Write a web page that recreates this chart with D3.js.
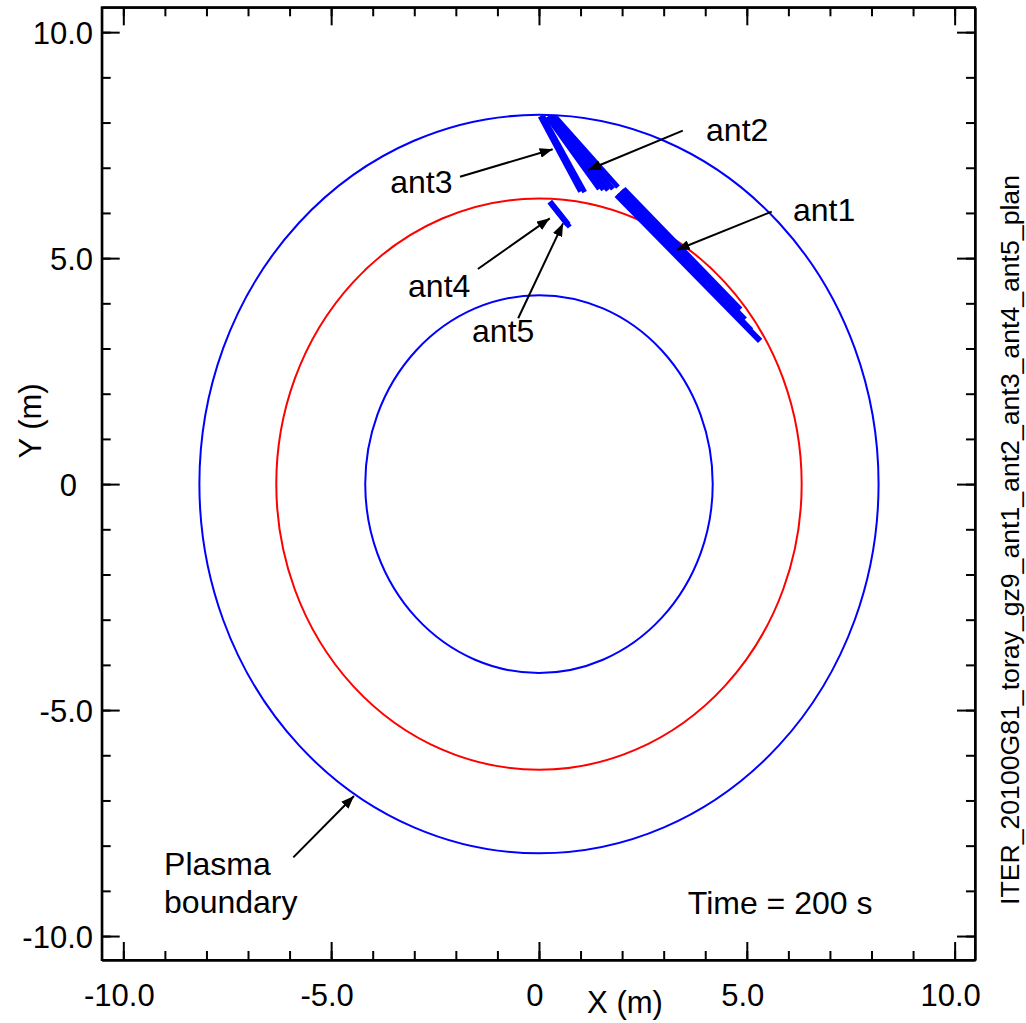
<!DOCTYPE html>
<html>
<head>
<meta charset="utf-8">
<script src="https://cdn.jsdelivr.net/npm/d3@7"></script>
<style>
  body { margin: 0; background: #fff; }
  text { font-family: "Liberation Sans", Arial, sans-serif; fill: #000; }
</style>
</head>
<body>
<div id="chart"></div>
<script>
// tick values and labels
const majorTicks = [-10, -5, 0, 5, 10];
const minorTicks = [-10, -9, -8, -7, -6, -5, -4, -3, -2, -1, 0, 1, 2, 3, 4, 5, 6, 7, 8, 9, 10];
const xTickLabels = ["-10.0", "-5.0", "0", "5.0", "10.0"];
const yTickLabels = ["-10.0", "-5.0", "0", "5.0", "10.0"];

// flux surfaces (radius in m): plasma boundary, resonance, inner surface
const surfaceRadii = [8.17, 6.32, 4.18];

// ray bundles, each ray as [x0, y0, x1, y1] in m
const ant1Rays = [[2.03, 6.53, 4.84, 3.86], [1.97, 6.48, 4.95, 3.64], [1.92, 6.43, 5.10, 3.40], [1.87, 6.40, 5.32, 3.17], [1.99, 6.50, 4.80, 3.70]];
const ant2Rays = [[0.20, 8.13, 1.45, 6.53], [0.25, 8.13, 1.55, 6.51], [0.30, 8.13, 1.66, 6.50], [0.35, 8.13, 1.78, 6.53], [0.40, 8.12, 1.90, 6.57]];
const ant3Rays = [[0.03, 8.14, 1.00, 6.47], [0.09, 8.14, 1.10, 6.46]];
const ant4Rays = [[0.26, 6.25, 0.70, 5.74]];
const ant5Rays = [[0.31, 6.19, 0.74, 5.69]];

const W = 1026, H = 1023;
const box = {left: 101.7, right: 975, top: 7.3, bottom: 960};

const svg = d3.select("#chart").append("svg")
    .attr("width", W)
    .attr("height", H);

svg.append("defs").append("marker")
    .attr("id", "head")
    .attr("viewBox", "0 0 13 10")
    .attr("refX", 13)
    .attr("refY", 5)
    .attr("markerWidth", 13)
    .attr("markerHeight", 10)
    .attr("markerUnits", "userSpaceOnUse")
    .attr("orient", "auto")
  .append("path")
    .attr("d", "M0,0L13,5L0,10Z")
    .attr("fill", "#000");

let x = d3.scaleLinear().domain([-10.52, 10.49]).range([box.left, box.right]);
let y = d3.scaleLinear().domain([-10.53, 10.55]).range([box.bottom, box.top]);

// surfaces
const surfaceColors = ["#0000ff", "#ff0000", "#0000ff"];
svg.append("g").selectAll("ellipse")
    .data(surfaceRadii)
  .enter().append("ellipse")
    .attr("cx", x(0))
    .attr("cy", y(0))
    .attr("rx", d => x(d) - x(0))
    .attr("ry", d => y(0) - y(d))
    .attr("fill", "none")
    .attr("stroke", (d, i) => surfaceColors[i])
    .attr("stroke-width", 2);

// rays
const bundles = [ant1Rays, ant2Rays, ant3Rays, ant4Rays, ant5Rays];
const bundleWidth = [6, 5, 5, 6, 5];
bundles.forEach((rays, k) => {
    svg.append("g").selectAll("line")
        .data(rays)
      .enter().append("line")
        .attr("x1", d => x(d[0]))
        .attr("y1", d => y(d[1]))
        .attr("x2", d => x(d[2]))
        .attr("y2", d => y(d[3]))
        .attr("stroke", "#0000ff")
        .attr("stroke-width", bundleWidth[k]);
});

// axes, ticks pointing inward on all four sides
function styleAxis(g) {
    g.selectAll("path, line").attr("stroke", "#000").attr("stroke-width", 2);
}
const axes = svg.append("g");
[[d3.axisBottom, x, box.bottom], [d3.axisTop, x, box.top]].forEach(([ax, sc, pos]) => {
    axes.append("g").attr("transform", "translate(0," + pos + ")")
        .call(ax(sc).tickValues(minorTicks).tickSize(-9).tickSizeOuter(0).tickFormat(""))
        .call(styleAxis);
    axes.append("g").attr("transform", "translate(0," + pos + ")")
        .call(ax(sc).tickValues(majorTicks).tickSize(-18).tickSizeOuter(0).tickFormat(""))
        .call(styleAxis);
});
[[d3.axisLeft, y, box.left], [d3.axisRight, y, box.right]].forEach(([ax, sc, pos]) => {
    axes.append("g").attr("transform", "translate(" + pos + ",0)")
        .call(ax(sc).tickValues(minorTicks).tickSize(-9).tickSizeOuter(0).tickFormat(""))
        .call(styleAxis);
    axes.append("g").attr("transform", "translate(" + pos + ",0)")
        .call(ax(sc).tickValues(majorTicks).tickSize(-18).tickSizeOuter(0).tickFormat(""))
        .call(styleAxis);
});
svg.append("rect")
    .attr("x", box.left).attr("y", box.top)
    .attr("width", box.right - box.left).attr("height", box.bottom - box.top)
    .attr("fill", "none").attr("stroke", "#000").attr("stroke-width", 2);

// tick labels
svg.append("g").selectAll("text")
    .data(majorTicks)
  .enter().append("text")
    .attr("x", d => x(d) - 4)
    .attr("y", 1006)
    .attr("text-anchor", "middle")
    .attr("font-size", 31)
    .text((d, i) => xTickLabels[i]);
svg.append("g").selectAll("text")
    .data(majorTicks)
  .enter().append("text")
    .attr("x", d => d === 0 ? 77 : 93)
    .attr("y", d => y(d) + 12)
    .attr("text-anchor", "end")
    .attr("font-size", 31)
    .text((d, i) => yTickLabels[i]);

// axis titles
svg.append("text")
    .attr("x", 625).attr("y", 1013)
    .attr("text-anchor", "middle")
    .attr("font-size", 31)
    .text("X (m)");
svg.append("text")
    .attr("transform", "translate(41,421) rotate(-90)")
    .attr("text-anchor", "middle")
    .attr("font-size", 31)
    .text("Y (m)");
svg.append("text")
    .attr("transform", "translate(1019,540) rotate(-90)")
    .attr("text-anchor", "middle")
    .attr("font-size", 25)
    .attr("textLength", 730)
    .attr("lengthAdjust", "spacingAndGlyphs")
    .text("ITER_20100G81_toray_gz9_ant1_ant2_ant3_ant4_ant5_plan");

// annotations: label position and arrow, in m
const notes = [
    {text: ["ant1"], tx: 6.11, ty: 5.82, a: [5.60, 6.03, 3.31, 5.18]},
    {text: ["ant2"], tx: 4.02, ty: 7.59, a: [3.46, 7.82, 1.18, 6.95]},
    {text: ["ant3"], tx: -3.58, ty: 6.44, a: [-1.90, 6.80, 0.33, 7.41]},
    {text: ["ant4"], tx: -3.15, ty: 4.14, a: [-1.47, 4.76, 0.26, 5.88]},
    {text: ["ant5"], tx: -1.61, ty: 3.15, a: [-0.50, 3.67, 0.58, 5.77]},
    {text: ["Plasma", "boundary"], tx: -9.02, ty: -8.65, a: [-5.91, -8.26, -4.45, -6.90]}
];
const ng = svg.append("g");
notes.forEach(n => {
    ng.append("line")
        .attr("x1", x(n.a[0])).attr("y1", y(n.a[1]))
        .attr("x2", x(n.a[2])).attr("y2", y(n.a[3]))
        .attr("stroke", "#000")
        .attr("stroke-width", 2)
        .attr("marker-end", "url(#head)");
    n.text.forEach((t, i) => {
        ng.append("text")
            .attr("x", x(n.tx))
            .attr("y", y(n.ty) + i * 38)
            .attr("font-size", 32)
            .text(t);
    });
});
svg.append("text")
    .attr("x", x(3.58)).attr("y", y(-9.51))
    .attr("font-size", 32)
    .text("Time = 200 s");
</script>
</body>
</html>
